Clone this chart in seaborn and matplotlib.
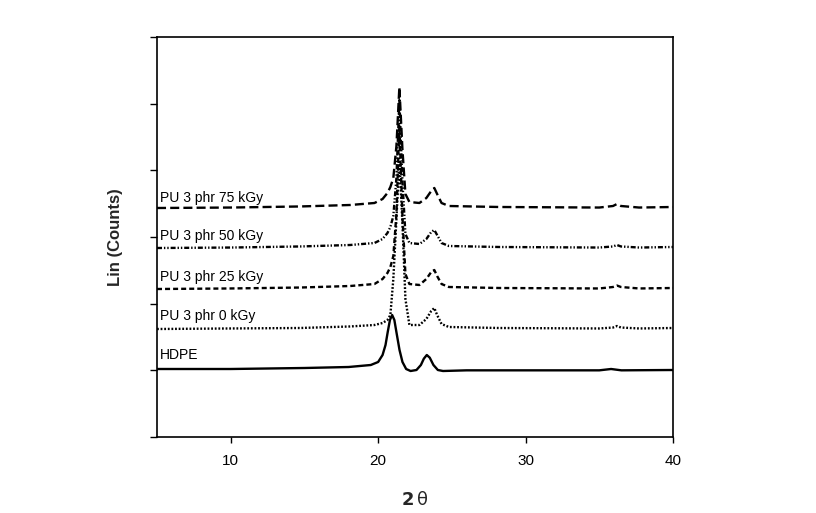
import matplotlib
matplotlib.use("Agg")
import matplotlib.pyplot as plt
import seaborn as sns
import pandas as pd

# ---------------- data ----------------
two_theta_hdpe = [5, 10, 15, 18, 19.5, 20.0, 20.3, 20.5, 20.65, 20.8, 20.95, 21.1, 21.25,
                  21.45, 21.65, 21.9, 22.2, 22.6, 22.9, 23.1, 23.3, 23.5, 23.75, 24.05,
                  24.4, 26, 30, 35, 35.8, 36.5, 40]
counts_hdpe = [20, 20, 35, 50, 80, 125, 230, 380, 575, 755, 830, 755, 560,
               305, 125, 20, -10, 5, 80, 175, 230, 190, 80, 5,
               -10, 0, 0, 0, 20, 0, 5]

two_theta_pu = [5, 10, 14.7, 18.1, 19.75, 20.3, 20.63, 20.83, 21.03, 21.24, 21.44, 21.65,
                21.85, 22.12, 22.8, 23.27, 23.6, 23.81, 24.0, 24.3, 24.8, 28.2, 35.0,
                35.93, 36.2, 36.47, 37.7, 40]
counts_pu_0 = [620, 628, 635, 658, 680, 710, 755, 830, 1370, 2270, 3155, 2195,
               1070, 680, 680, 770, 890, 935, 830, 695, 650, 635, 628,
               642, 665, 642, 628, 635]
counts_pu_25 = [1220, 1228, 1242, 1265, 1295, 1370, 1460, 1550, 1715, 2345, 3665, 2300,
                1445, 1295, 1280, 1370, 1475, 1505, 1415, 1295, 1250, 1235, 1228,
                1250, 1272, 1250, 1228, 1235]
counts_pu_50 = [1835, 1842, 1858, 1880, 1910, 1970, 2060, 2150, 2315, 2885, 4055, 2825,
                2045, 1910, 1895, 1970, 2075, 2105, 2030, 1910, 1865, 1850, 1842,
                1858, 1880, 1858, 1842, 1850]
counts_pu_75 = [2435, 2442, 2458, 2480, 2510, 2570, 2660, 2750, 2885, 3365, 4250, 3305,
                2645, 2525, 2510, 2585, 2690, 2735, 2645, 2510, 2465, 2450, 2442,
                2465, 2495, 2465, 2442, 2450]

series_names = ["HDPE", "PU 3 phr 0 kGy", "PU 3 phr 25 kGy", "PU 3 phr 50 kGy", "PU 3 phr 75 kGy"]
x_ticks = [10, 20, 30, 40]

# ---------------- styling ----------------
sns.set_theme(style="ticks")
plt.rcParams["font.family"] = ["Liberation Sans", "DejaVu Sans"]
plt.rcParams["lines.scale_dashes"] = False

label_y = [170, 755, 1340, 1955, 2525]
line_styles = ["-", (0, (1.3, 1.3)), (0, (3.6, 2.2)),
               (0, (3.6, 1.4, 1.0, 1.4, 1.0, 1.4)), (0, (6.5, 3.0))]

frames = [pd.DataFrame({"two_theta": two_theta_hdpe, "counts": counts_hdpe, "series": series_names[0]})]
for name, vals in zip(series_names[1:], [counts_pu_0, counts_pu_25, counts_pu_50, counts_pu_75]):
    frames.append(pd.DataFrame({"two_theta": two_theta_pu, "counts": vals, "series": name}))
df = pd.concat(frames, ignore_index=True)

fig = plt.figure(figsize=(8.16, 5.13), dpi=100)
ax = fig.add_axes([157 / 816, 1 - 437 / 513, 516 / 816, 400 / 513])

for name, ls in zip(series_names, line_styles):
    sub = df[df["series"] == name]
    sns.lineplot(data=sub, x="two_theta", y="counts", ax=ax, color="black",
                 linewidth=1.7, linestyle=ls, sort=False, estimator=None, legend=False)

for name, yy in zip(series_names, label_y):
    ax.text(5.2, yy, name, fontsize=10, color="black", ha="left", va="baseline")

ax.set_xlim(5, 40)
ax.set_ylim(-1000, 5000)
ax.set_xticks(x_ticks)
ax.set_yticks(range(-1000, 5001, 1000))
ax.set_yticklabels([])
ax.tick_params(axis="x", direction="out", length=4, width=1, labelsize=11, pad=8, colors="black")
ax.tick_params(axis="y", direction="out", length=5, width=1, colors="black")
for sp in ax.spines.values():
    sp.set_visible(True)
    sp.set_color("black")
    sp.set_linewidth(1.2)

ax.set_xlabel(r"$\mathbf{2}\,\mathrm{\theta}$", fontsize=13)
ax.xaxis.set_label_coords(0.5, -0.135)
ax.set_ylabel("Lin (Counts)", fontsize=12, fontweight="bold")
ax.yaxis.set_label_coords(-0.066, 0.5)

fig.savefig("out.png", dpi=100)
